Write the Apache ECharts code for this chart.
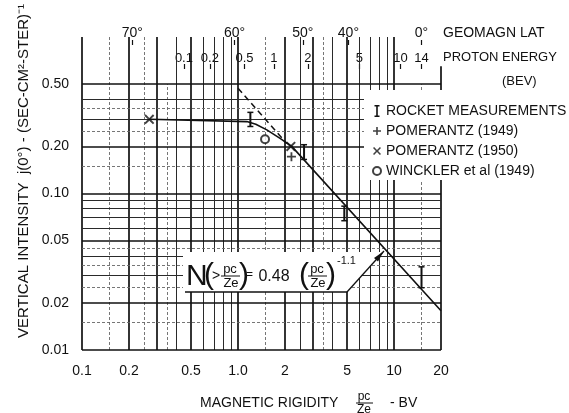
<!DOCTYPE html>
<html><head><meta charset="utf-8">
<script src="https://cdn.jsdelivr.net/npm/echarts@6.0.0/dist/echarts.min.js"></script>
<style>html,body{margin:0;padding:0;background:#fff}#c{width:569px;height:413px}</style>
</head><body><div id="c"></div>
<script>
// ---------- data ----------
const xTickValues = [0.1, 0.2, 0.5, 1, 2, 5, 10, 20];
const xTickLabels = ['0.1', '0.2', '0.5', '1.0', '2', '5', '10', '20'];
const yTickValues = [0.01, 0.02, 0.05, 0.1, 0.2, 0.5];
const yTickLabels = ['0.01', '0.02', '0.05', '0.10', '0.20', '0.50'];
const latRigidity = [0.21, 0.95, 2.6, 5.1, 15];
const latLabels = ['70°', '60°', '50°', '40°', '0°'];
const energyRigidity = [0.45, 0.66, 1.1, 1.7, 2.8, 6.0, 11, 15];
const energyLabels = ['0.1', '0.2', '0.5', '1', '2', '5', '10', '14'];

const fitCurve = [[0.27, 0.298], [1.14, 0.288], [1.3, 0.277], [1.53, 0.255], [1.86, 0.225], [2.21, 0.2], [20, 0.0178]];
const dashedExtension = [[1.0, 0.47], [2.05, 0.209]];
const rocketMeasurements = [[1.2, 0.268, 0.33], [2.65, 0.165, 0.205], [4.8, 0.067, 0.083], [15, 0.025, 0.034]];
const pomerantz1949 = [[2.2, 0.172]];
const pomerantz1950 = [[0.27, 0.298], [2.18, 0.2]];
const winckler1949 = [[1.49, 0.222]];

// graph-paper rulings
const vBold = [0.1, 0.2, 0.3, 0.5, 1, 2, 3, 5, 10, 20];
const vNormal = [0.4, 0.6, 0.7, 0.8, 0.9, 2.5, 4, 6, 7, 8, 9];
const vLight = [0.15, 0.25, 0.35, 1.5, 3.5, 15];
const hBold = [0.01, 0.02, 0.05, 0.1, 0.2, 0.5];
const hNormal = [0.03, 0.04, 0.06, 0.07, 0.08, 0.09, 0.3, 0.4];
const hLight = [0.015, 0.025, 0.035, 0.045, 0.15, 0.25, 0.35];

// ---------- chart ----------
const FONT = '"Liberation Sans", Arial, sans-serif';
const INK = '#111';
const chart = echarts.init(document.getElementById('c'), null, {renderer: 'canvas'});

function lookup(vals, labels) {
  return function (v) {
    for (let i = 0; i < vals.length; i++) if (Math.abs(vals[i] - v) <= 1e-3 * vals[i]) return labels[i];
    return '';
  };
}

const styles = {
  bold: {color: '#111', width: 1.7, type: 'solid'},
  normal: {color: '#2a2a2a', width: 1.0, type: 'solid'},
  light: {color: '#666', width: 0.9, type: [3, 2]}
};
const gridLines = [];
function addV(list, st) {
  list.forEach(v => {
    let top = 1.0;
    if (v === 0.35 || v === 15) top = 0.5;
    if (v === 20) top = 0.65;
    gridLines.push([{coord: [v, 0.01], lineStyle: styles[st]}, {coord: [v, top]}]);
  });
}
function addH(list, st) {
  list.forEach(h => gridLines.push([{coord: [0.1, h], lineStyle: styles[st]}, {coord: [20, h]}]));
}
addV(vLight, 'light'); addV(vNormal, 'normal'); addV(vBold, 'bold');
addH(hLight, 'light'); addH(hNormal, 'normal'); addH(hBold, 'bold');

const IBEAM = 'path://M0,0H5V1.6H3.3V10.4H5V12H0V10.4H1.7V1.6H0Z';
const PLUS = 'path://M3.2,0H4.8V3.2H8V4.8H4.8V8H3.2V4.8H0V3.2H3.2Z';
const CROSS = 'path://M1.1,0L4,2.9L6.9,0L8,1.1L5.1,4L8,6.9L6.9,8L4,5.1L1.1,8L0,6.9L2.9,4L0,1.1Z';

function txt(text, x, y, size, extra) {
  return Object.assign({type: 'text', x: x, y: y, z: 30, silent: true,
    style: Object.assign({text: text, fontSize: size, fontFamily: FONT, fill: INK, align: 'left', verticalAlign: 'middle'}, (extra && extra.style) || {})},
    extra ? {rotation: extra.rotation || 0} : {});
}
function seg(x1, y1, x2, y2, w) {
  return {type: 'line', z: 31, silent: true, shape: {x1, y1, x2, y2}, style: {stroke: INK, lineWidth: w || 1}};
}

const graphics = [
  // formula annotation box
  {type: 'polygon', z: 29, silent: true, shape: {points: [[183, 252], [383, 252], [347, 292], [183, 292]]}, style: {fill: '#fff'}},
  txt('N', 186, 277, 30),
  txt('(', 204, 276, 30),
  txt('>', 212, 276, 14),
  txt('pc', 230, 269, 13, {style: {align: 'center'}}),
  seg(221, 276, 240, 276, 1),
  txt('Ze', 231, 283, 13, {style: {align: 'center'}}),
  txt(')', 239, 276, 30),
  txt('=', 246, 275, 12),
  txt('0.48', 274, 277, 16, {style: {align: 'center'}}),
  txt('(', 299, 276, 30),
  txt('pc', 317, 269, 13, {style: {align: 'center'}}),
  seg(308, 276, 327, 276, 1),
  txt('Ze', 318, 283, 13, {style: {align: 'center'}}),
  txt(')', 326, 276, 30),
  txt('-1.1', 337, 261, 11),
  seg(185, 292, 347, 292, 1.3),
  seg(347, 292, 384, 251, 1.3),
  {type: 'polygon', z: 31, silent: true, shape: {points: [[384, 251], [378, 261.5], [374, 258]]}, style: {fill: INK}},
  // y axis title
  txt('VERTICAL INTENSITY  j(0°) - (SEC-CM²-STER)⁻¹', 24, 171, 15, {rotation: Math.PI / 2, style: {align: 'center'}}),
  // x axis title
  txt('MAGNETIC RIGIDITY', 200, 403, 14),
  txt('pc', 364, 397, 12, {style: {align: 'center'}}),
  seg(356, 403, 373, 403, 1),
  txt('Ze', 364, 410, 12, {style: {align: 'center'}}),
  txt('- BV', 390, 403, 14),
  // top scale titles
  txt('GEOMAGN LAT', 443, 33, 14),
  txt('PROTON ENERGY', 443, 57, 13),
  txt('(BEV)', 502, 81, 13)
];

const axisCommon = {
  type: 'log', logBase: 10, min: 0.1, max: 20,
  axisLine: {show: false}, splitLine: {show: false}, minorSplitLine: {show: false}
};

chart.setOption({
  animation: false,
  backgroundColor: '#fff',
  textStyle: {fontFamily: FONT},
  grid: {left: 82, right: 128, top: 37, bottom: 63, containLabel: false},
  xAxis: [
    Object.assign({}, axisCommon, {
      position: 'bottom',
      axisTick: {show: false},
      axisLabel: {customValues: xTickValues, formatter: lookup(xTickValues, xTickLabels), margin: 14,
        fontSize: 14, color: INK, fontFamily: FONT}
    }),
    Object.assign({}, axisCommon, {
      position: 'top', offset: -3,
      axisTick: {show: true, inside: true, length: 5, customValues: latRigidity, lineStyle: {color: INK, width: 1.2}},
      axisLabel: {customValues: latRigidity, formatter: lookup(latRigidity, latLabels), margin: 0,
        fontSize: 14, color: INK, fontFamily: FONT}
    }),
    Object.assign({}, axisCommon, {
      position: 'top', offset: -27,
      axisTick: {show: true, inside: true, length: 5, customValues: energyRigidity, lineStyle: {color: INK, width: 1.2}},
      axisLabel: {customValues: energyRigidity, formatter: lookup(energyRigidity, energyLabels), margin: -1,
        fontSize: 13, color: INK, fontFamily: FONT}
    })
  ],
  yAxis: {
    type: 'log', logBase: 10, min: 0.01, max: 1.0,
    axisLine: {show: false}, axisTick: {show: false}, splitLine: {show: false},
    axisLabel: {customValues: yTickValues, formatter: lookup(yTickValues, yTickLabels), margin: 13,
      fontSize: 14, color: INK, fontFamily: FONT}
  },
  legend: {
    orient: 'vertical', left: 364, top: 90, padding: [14, 8, 2, 8], z: 10,
    backgroundColor: '#fff', itemWidth: 8, itemHeight: 12, itemGap: 6, selectedMode: false,
    textStyle: {fontSize: 14, color: INK, fontFamily: FONT, lineHeight: 14},
    data: [
      {name: 'ROCKET MEASUREMENTS', icon: IBEAM},
      {name: 'POMERANTZ (1949)', icon: PLUS},
      {name: 'POMERANTZ (1950)', icon: CROSS},
      {name: 'WINCKLER et al (1949)', icon: 'emptyCircle'}
    ]
  },
  graphic: {elements: graphics},
  series: [
    {
      name: 'rulings', type: 'line', z: 1, data: [], silent: true, clip: false,
      markLine: {silent: true, z: 1, symbol: 'none', label: {show: false}, animation: false, data: gridLines}
    },
    {
      name: 'fit', type: 'line', z: 3, data: fitCurve, symbol: 'none', silent: true,
      lineStyle: {color: INK, width: 1.6}
    },
    {
      name: 'extension', type: 'line', z: 3, data: dashedExtension, symbol: 'none', silent: true,
      lineStyle: {color: INK, width: 1.5, type: [6, 4]}
    },
    {
      name: 'ROCKET MEASUREMENTS', type: 'custom', z: 4, data: rocketMeasurements,
      encode: {x: 0, y: [1, 2]}, itemStyle: {color: INK},
      renderItem: function (params, api) {
        const x = api.value(0);
        const lo = api.coord([x, api.value(1)]);
        const hi = api.coord([x, api.value(2)]);
        const w = 3;
        return {type: 'group', children: [
          {type: 'line', shape: {x1: lo[0], y1: lo[1], x2: hi[0], y2: hi[1]}, style: {stroke: INK, lineWidth: 2}},
          {type: 'line', shape: {x1: lo[0] - w, y1: lo[1], x2: lo[0] + w, y2: lo[1]}, style: {stroke: INK, lineWidth: 1.5}},
          {type: 'line', shape: {x1: hi[0] - w, y1: hi[1], x2: hi[0] + w, y2: hi[1]}, style: {stroke: INK, lineWidth: 1.5}}
        ]};
      }
    },
    {name: 'POMERANTZ (1949)', type: 'scatter', z: 5, data: pomerantz1949, symbol: PLUS, symbolSize: 9, itemStyle: {color: INK}},
    {name: 'POMERANTZ (1950)', type: 'scatter', z: 5, data: pomerantz1950, symbol: CROSS, symbolSize: 10, itemStyle: {color: INK}},
    {name: 'WINCKLER et al (1949)', type: 'scatter', z: 5, data: winckler1949, symbol: 'emptyCircle', symbolSize: 8,
      itemStyle: {color: INK, borderColor: INK, borderWidth: 1.4}}
  ]
});
</script></body></html>
